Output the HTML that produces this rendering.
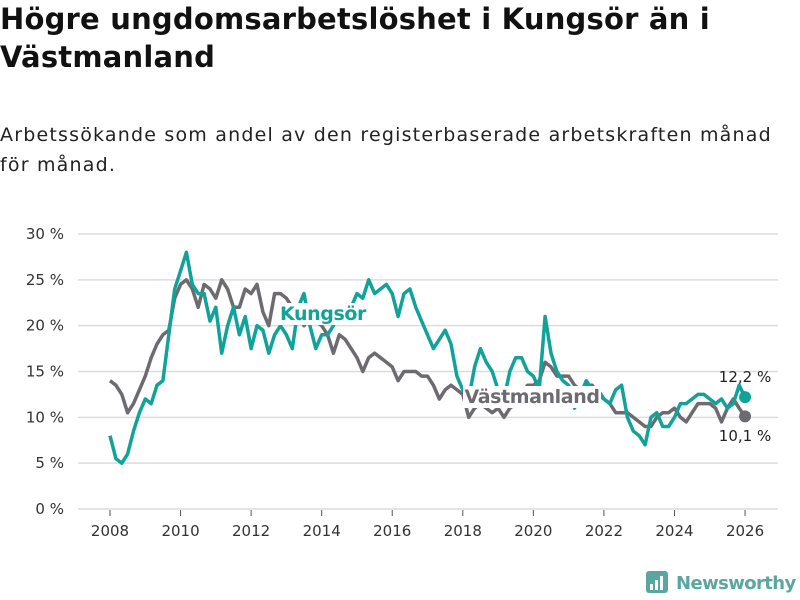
<!DOCTYPE html>
<html><head><meta charset="utf-8"><style>
body{margin:0;background:#fff;font-family:"DejaVu Sans","Liberation Sans",sans-serif;}
#wrap{position:relative;width:800px;height:600px;overflow:hidden}
h1{position:absolute;left:0;top:0;margin:0;font-size:29px;line-height:38px;font-weight:bold;color:#111;width:790px;letter-spacing:0.2px;white-space:nowrap}
.sub{position:absolute;left:0;top:120px;font-size:19px;line-height:30px;color:#222;width:800px;letter-spacing:1.2px;white-space:nowrap}
svg{position:absolute;left:0;top:0}
</style></head><body><div id="wrap">
<h1>Högre ungdomsarbetslöshet i Kungsör än i<br>Västmanland</h1>
<div class="sub">Arbetssökande som andel av den registerbaserade arbetskraften månad<br>för månad.</div>
<svg id="c" width="800" height="600"></svg>
</div>
<script>
const vastmanland=[14,13.5,12.5,10.5,11.5,13, 14.5,16.5,18,19,19.5,23, 24.5,25,24,22,24.5,24, 23,25,24,22,22,24, 23.5,24.5,21.5,20,23.5,23.5, 23,22,21.5,20,21,20.5, 20,19,17,19,18.5,17.5, 16.5,15,16.5,17,16.5,16, 15.5,14,15,15,15,14.5, 14.5,13.5,12,13,13.5,13, 12.5,10,11,11.5,11,10.5, 11,10,11,11.5,12.5,13.5, 13.5,14,16,15.5,14.5,14.5, 14.5,13.5,13,13.5,13.5,12.5, 12,11.5,10.5,10.5,10.5,10, 9.5,9,9,10,10.5,10.5, 11,10,9.5,10.5,11.5,11.5, 11.5,11,9.5,11,12,11, 10.1];
const kungsor=[8,5.5,5,6,8.5,10.5, 12,11.5,13.5,14,19,24, 26,28,24.5,23.5,23.5,20.5, 22,17,20,22,19,21, 17.5,20,19.5,17,19,20, 19,17.5,22,23.5,20,17.5, 19,19,20,22,21.5,22, 23.5,23,25,23.5,24,24.5, 23.5,21,23.5,24,22,20.5, 19,17.5,18.5,19.5,18,14.5, 13,12,15.5,17.5,16,15, 13,12,15,16.5,16.5,15, 14.5,13,21,17,15,14, 13.5,11,12.5,14,13,13, 12,11.5,13,13.5,10,8.5, 8,7,10,10.5,9,9, 10,11.5,11.5,12,12.5,12.5, 12,11.5,12,11,11.5,13.5, 12.2];
const startYear=2008, stepMonths=2;
const yTicks=[0,5,10,15,20,25,30];
const xTicks=[2008,2010,2012,2014,2016,2018,2020,2022,2024,2026];
const endLabels=["12,2 %","10,1 %"];
const X=y=>110+(y-2008)*35.28, Y=v=>509-v*9.1667;
const svg=document.getElementById('c'),NS='http://www.w3.org/2000/svg';
function mk(t,a,p){const e=document.createElementNS(NS,t);for(const k in a)e.setAttribute(k,a[k]);(p||svg).appendChild(e);return e;}
yTicks.forEach(v=>{
 const l=mk('line',{x1:78,x2:778,y1:Y(v),y2:Y(v),stroke:'#dcdcdc','stroke-width':1.5});
 
 
 const t=mk('text',{x:64,y:Y(v)+5,'text-anchor':'end','font-size':15,fill:'#333'});t.textContent=v+' %';
 
 
});
xTicks.forEach(y=>{
 const l=mk('line',{x1:X(y),x2:X(y),y1:510,y2:516,stroke:'#555'});
 
 
 const t=mk('text',{x:X(y),y:536,'text-anchor':'middle','font-size':15,fill:'#333'});t.textContent=y;
 
 
});
function line(arr,col,name){
 const d=arr.map((v,i)=>(i?'L':'M')+X(startYear+i*stepMonths/12).toFixed(1)+','+Y(v).toFixed(1)).join('');
 const p=mk('path',{d:d,fill:'none',stroke:col,'stroke-width':3.5,'stroke-linejoin':'round'});
 
 
 const n=arr.length-1;
 const c=mk('circle',{cx:X(startYear+n*stepMonths/12),cy:Y(arr[n]),r:6,fill:col});
 
 
}
line(vastmanland,'#6d6b70','vastmanland');
line(kungsor,'#11a39a','kungsor');
function lab(txt,x,y,col,name,w){
 const r=mk('rect',{x:x-w/2,y:y-17,width:w,height:22,fill:'#fff'});
 
 
 const t=mk('text',{x:x,y:y,'text-anchor':'middle','font-size':19,'font-weight':'bold',fill:col,'letter-spacing':'-0.4'});t.textContent=txt;
 
 
}
lab('Kungsör',323,320,'#11a39a','kungsor-label',88);
lab('Västmanland',532,403,'#6d6b70','vastmanland-label',138);
const e1=mk('text',{x:745,y:382,'text-anchor':'middle','font-size':15,fill:'#222'});e1.textContent=endLabels[0];


const e2=mk('text',{x:745,y:441,'text-anchor':'middle','font-size':15,fill:'#222'});e2.textContent=endLabels[1];


const g=mk('g',{});


mk('rect',{x:646,y:571,width:22,height:22,rx:3,fill:'#5aa7a0'},g);
[[650,584,3,6],[655,580,3,10],[660,576,3,14]].forEach(b=>mk('rect',{x:b[0],y:b[1],width:b[2],height:b[3],fill:'#fff'},g));
const lt=mk('text',{x:676,y:589,'font-size':18,'font-weight':'bold',fill:'#5aa7a0','letter-spacing':'-0.6'},g);lt.textContent='Newsworthy';
</script></body></html>
